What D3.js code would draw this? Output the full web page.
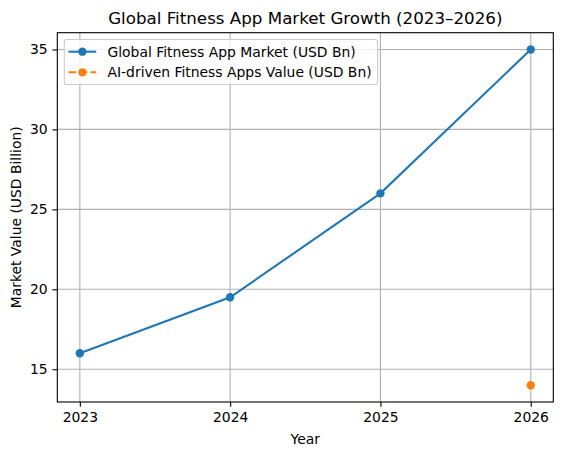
<!DOCTYPE html>
<html>
<head>
<meta charset="utf-8">
<script src="https://cdn.jsdelivr.net/npm/d3@7/dist/d3.min.js"></script>
<style>
  html, body { margin: 0; padding: 0; background: #fff; }
  svg { display: block; font-family: "DejaVu Sans", sans-serif; }
</style>
</head>
<body>
<svg id="chart" width="562" height="455"></svg>
<script>
const title = "Global Fitness App Market Growth (2023–2026)";
const xLabel = "Year";
const yLabel = "Market Value (USD Billion)";
const years = [2023, 2024, 2025, 2026];
const globalMarket = [16, 19.5, 26, 35];
const aiDriven = [null, null, null, 14];
const seriesNames = ["Global Fitness App Market (USD Bn)", "AI-driven Fitness Apps Value (USD Bn)"];
const yTicks = [15, 20, 25, 30, 35];

const colors = ["#1f77b4", "#ff7f0e"];
const svg = d3.select("#chart");
const L = 57.3, R = 553.3, T = 32.7, B = 402;

const allVals = globalMarket.concat(aiDriven).filter(v => v != null);
const yMin = d3.min(allVals), yMax = d3.max(allVals);
const yPad = (yMax - yMin) * 0.05;
const xMin = d3.min(years), xMax = d3.max(years);
const xPad = (xMax - xMin) * 0.05;

const x = d3.scaleLinear().domain([xMin - xPad, xMax + xPad]).range([L, R]);
const y = d3.scaleLinear().domain([yMin - yPad, yMax + yPad]).range([B, T]);

// grid
const grid = svg.append("g");
years.forEach(v => {
  grid.append("line").attr("x1", x(v)).attr("x2", x(v)).attr("y1", T).attr("y2", B)
    .attr("stroke", "#b0b0b0").attr("stroke-width", 1.1);
});
yTicks.forEach(v => {
  grid.append("line").attr("x1", L).attr("x2", R).attr("y1", y(v)).attr("y2", y(v))
    .attr("stroke", "#b0b0b0").attr("stroke-width", 1.1);
});

// series
const series = [
  { name: seriesNames[0], values: globalMarket, color: colors[0], dash: null },
  { name: seriesNames[1], values: aiDriven, color: colors[1], dash: "7.7,3.3" }
];
const line = d3.line().defined(d => d.v != null).x(d => x(d.yr)).y(d => y(d.v));
series.forEach(s => {
  const pts = years.map((yr, i) => ({ yr, v: s.values[i] }));
  svg.append("path").datum(pts).attr("d", line).attr("fill", "none")
    .attr("stroke", s.color).attr("stroke-width", 2.08)
    .attr("stroke-dasharray", s.dash);
  svg.selectAll(null).data(pts.filter(p => p.v != null)).enter().append("circle")
    .attr("cx", d => x(d.yr)).attr("cy", d => y(d.v)).attr("r", 4.17)
    .attr("fill", s.color);
});

// axes
const xAxis = d3.axisBottom(x).tickValues(years).tickFormat(d3.format("d"))
  .tickSize(4.86).tickPadding(4.86);
const gx = svg.append("g").attr("transform", `translate(0,${B})`).call(xAxis);
const yAxis = d3.axisLeft(y).tickValues(yTicks).tickFormat(d3.format("d"))
  .tickSize(4.86).tickPadding(4.86);
const gy = svg.append("g").attr("transform", `translate(${L},0)`).call(yAxis);
[gx, gy].forEach(g => {
  g.select(".domain").remove();
  g.selectAll(".tick line").attr("stroke", "#000").attr("stroke-width", 1.1);
  g.selectAll(".tick text").attr("fill", "#000").attr("font-size", "13.9px")
    .attr("font-family", "DejaVu Sans, sans-serif");
});
gx.selectAll(".tick text").attr("dy", "0.76em");

// spines
svg.append("rect").attr("x", L).attr("y", T).attr("width", R - L).attr("height", B - T)
  .attr("fill", "none").attr("stroke", "#000").attr("stroke-width", 1.1);

// title and labels
svg.append("text").attr("x", (L + R) / 2).attr("y", 24.4).attr("text-anchor", "middle")
  .attr("font-size", "16.7px").attr("fill", "#000").text(title);
svg.append("text").attr("x", (L + R) / 2).attr("y", 444).attr("text-anchor", "middle")
  .attr("font-size", "13.9px").attr("fill", "#000").text(xLabel);
svg.append("text").attr("transform", `translate(21,${(T + B) / 2}) rotate(-90)`)
  .attr("text-anchor", "middle").attr("font-size", "13.9px").attr("fill", "#000").text(yLabel);

// legend
const lg = svg.append("g");
const box = lg.append("rect").attr("x", 64.3).attr("y", 39.5).attr("height", 45)
  .attr("rx", 2.8).attr("fill", "#fff").attr("fill-opacity", 0.8)
  .attr("stroke", "#cccccc").attr("stroke-width", 1.1);
let maxW = 0;
series.forEach((s, i) => {
  const cy = 51.7 + i * 20.6;
  lg.append("line").attr("x1", 68.5).attr("x2", 96.3).attr("y1", cy).attr("y2", cy)
    .attr("stroke", s.color).attr("stroke-width", 2.08).attr("stroke-dasharray", s.dash);
  lg.append("circle").attr("cx", 82.4).attr("cy", cy).attr("r", 4.17).attr("fill", s.color);
  const t = lg.append("text").attr("x", 107.5).attr("y", cy + 5).attr("font-size", "13.9px")
    .attr("fill", "#000").text(s.name);
  maxW = Math.max(maxW, t.node().getComputedTextLength());
});
box.attr("width", 107.5 + maxW + 6 - 64.3);
</script>
</body>
</html>
